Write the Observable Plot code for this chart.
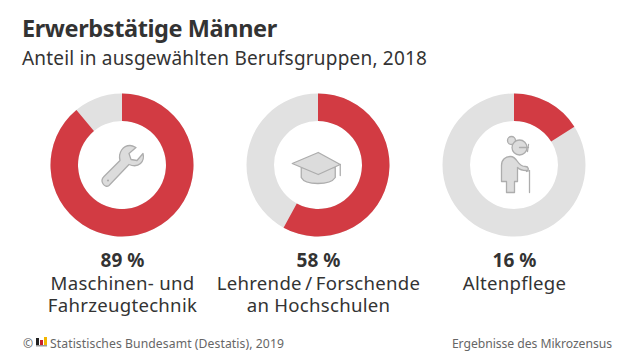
<!DOCTYPE html>
<html lang="de"><head><meta charset="utf-8">
<script src="https://cdn.jsdelivr.net/npm/d3@7"></script>
<script src="https://cdn.jsdelivr.net/npm/@observablehq/plot@0.6"></script>
<style>
html,body{margin:0;padding:0;background:#fff;width:636px;height:358px;overflow:hidden;font-family:"Noto Sans",sans-serif;color:#333}
#head{height:80px;position:relative}
#t{position:absolute;left:22px;top:12px;font-size:23.5px;font-weight:700;line-height:32px;white-space:nowrap;color:#333;letter-spacing:-.4px}
#s{position:absolute;left:22px;top:44px;font-size:19px;line-height:28px;white-space:nowrap;color:#333;letter-spacing:.2px}
#foot{position:relative;height:34px;font-size:12.2px;color:#666}
#foot span,#foot svg{position:absolute;white-space:nowrap}
svg{display:block}
</style></head><body>
<div id="head"><div id="t"></div><div id="s"></div></div>
<div id="chart"></div>
<div id="foot"></div>
<script>
const title="Erwerbstätige Männer";
const subtitle="Anteil in ausgewählten Berufsgruppen, 2018";
const keys=["Maschinen","Lehrende","Altenpflege"];
const shares=[89,58,16];
const line1=["Maschinen- und","Lehrende\u2009/\u2009Forschende","Altenpflege"];
const line2=["Fahrzeugtechnik","an Hochschulen",""];
const source="Statistisches Bundesamt (Destatis), 2019";
const note="Ergebnisse des Mikrozensus";

const RED="#d23b43",GREY="#e1e1e1",ICON="#dcdcdc",EDGE="#adadad";
const rows=keys.map((k,i)=>({k,share:shares[i],a:line1[i],b:line2[i]}));
const W=636,H=244,CY=85,R0=44,R1=71.5;

function svgUri(minx,miny,body){
  return "data:image/svg+xml,"+encodeURIComponent(`<svg xmlns="http://www.w3.org/2000/svg" width="80" height="80" viewBox="${minx} ${miny} 80 80"><g fill="${ICON}" stroke="${EDGE}" stroke-width="1.3" stroke-linejoin="round" stroke-linecap="round">${body}</g></svg>`);
}
const icons={
 Maschinen:svgUri(-8.5,-15,`<path d="M13 36 L29 20 C27 12 32 5 39 5 C41 5 43 6 45 7 L38 13 L40 19 L46 20 L52 13 C54 21 48 28 38 24 L18 45 C14 48 8 41 13 36Z"/><circle cx="17" cy="40" r="1.1" fill="${EDGE}" stroke="none"/>`),
 Lehrende:svgUri(-6.75,-15,`<path d="M16 27 V37 C20 45 45 45 50 37 V27Z"/><path d="M7 23 L33 12 L55 24 L33 34Z"/><path d="M55 24 V35" fill="none"/>`),
 Altenpflege:svgUri(-10,0,`<circle cx="27" cy="15" r="4"/><circle cx="35" cy="22" r="7.5"/><path d="M35 22 H44 M44 19 L43 26" fill="none"/><path d="M17 56 V40 C17 34 21 31 26 31 C29 31 31 33 33 36 C35 39 38 41 41 41 C44 41 45 45 42 45 C38 45 35 44 33 42 V56 H30 V67 H22 V56Z"/><path d="M42 46 L45 45 V67" fill="none"/>`)
};

const arcGen=d3.arc();
const angle=d3.scaleLinear([0,100],[0,2*Math.PI]);
const arcs=(fill,f)=>Plot.dot(rows,{x:"k",r:1,fill,frameAnchor:"top",render(index,scales,values){
  const g=d3.create("svg:g");
  for(const i of index){
    g.append("path").attr("fill",fill)
     .attr("transform",`translate(${values.x[i]},${CY})`)
     .attr("d",arcGen({innerRadius:R0,outerRadius:R1,startAngle:0,endAngle:angle(f(rows[i]))}));
  }
  return g.node();
}});

document.getElementById("t").textContent=title;
document.getElementById("s").textContent=subtitle;

const plot=Plot.plot({
  width:W,height:H,margin:0,
  x:{type:"point",domain:keys,range:[121.5,515],padding:0,axis:null},
  style:{background:"transparent",fontFamily:"Noto Sans",color:"#333"},
  marks:[
    arcs(GREY,()=>100),
    arcs(RED,d=>d.share),
    Plot.image(rows,{x:"k",src:d=>icons[d.k],width:80,height:80,frameAnchor:"top",dy:85}),
    Plot.text(rows,{x:"k",text:d=>d.share+" %",frameAnchor:"top",dy:180.5,fontSize:19,fontWeight:700,fill:"#333",lineAnchor:"middle"}),
    Plot.text(rows,{x:"k",text:"a",frameAnchor:"top",dy:203.5,fontSize:18.6,fill:"#333",lineAnchor:"middle"}),
    Plot.text(rows,{x:"k",text:"b",frameAnchor:"top",dy:226,fontSize:18.6,fill:"#333",lineAnchor:"middle"})
  ]
});
plot.querySelectorAll('g[font-size="18.6"]').forEach(g=>{ g.style.letterSpacing=".27px"; });
document.getElementById("chart").append(plot);

document.getElementById("foot").innerHTML=
 `<span style="left:23px;top:11px">©</span>`+
 `<svg style="left:36px;top:13px" width="11" height="10"><rect x="0" y="1" width="3" height="7" fill="#222"/><rect x="4" y="3" width="3" height="5" fill="#c8202a"/><rect x="8" y="0" width="3" height="8" fill="#f2b600"/><rect x="0" y="8" width="11" height="1.5" fill="#999"/></svg>`+
 `<span style="left:50px;top:11px;letter-spacing:.08px">${source}</span>`+
 `<span style="right:24px;top:11px;letter-spacing:-.05px">${note}</span>`;
</script>
</body></html>
